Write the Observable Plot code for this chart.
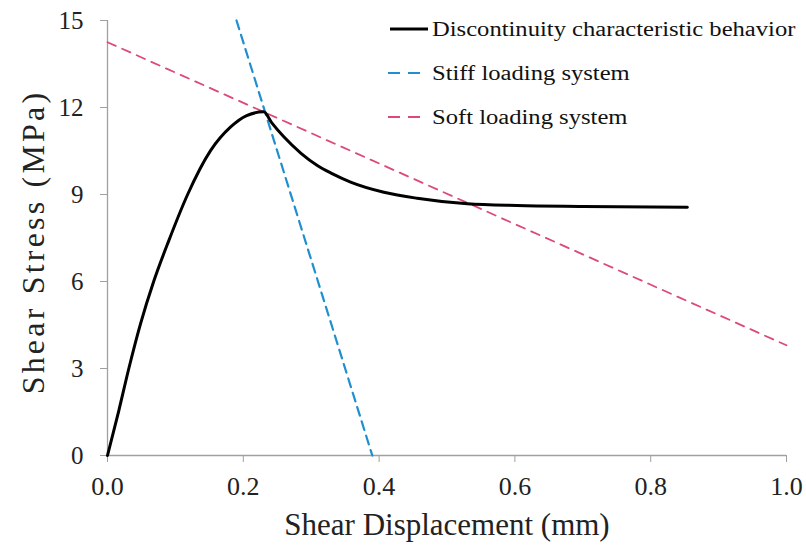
<!DOCTYPE html>
<html>
<head>
<meta charset="utf-8">
<script src="https://cdn.jsdelivr.net/npm/d3@7"></script>
<script src="https://cdn.jsdelivr.net/npm/@observablehq/plot@0.6"></script>
<style>
  html, body { margin: 0; padding: 0; background: #fff; }
  #wrap { position: relative; width: 806px; height: 548px; font-family: "Liberation Serif", "Times New Roman", serif; }
  #wrap svg text { font-family: "Liberation Serif", "Times New Roman", serif !important; }
  #legend { position: absolute; left: 386px; top: 7px; font-size: 20px; color: #111; }
  .row { display: flex; align-items: center; height: 44px; white-space: nowrap; }
  .row svg { margin-right: 2px; }
  .row span { display: inline-block; transform: scaleX(1.23); transform-origin: left center; }
  .ytitle text { letter-spacing: 3.2px; }
</style>
</head>
<body>
<div id="wrap"></div>
<script>
// Discontinuity characteristic curve (shear displacement mm, shear stress MPa)
const curveX = [0, 0.0167, 0.0314, 0.0486, 0.068, 0.0903, 0.118, 0.152, 0.181, 0.205, 0.23, 0.242, 0.26, 0.285, 0.309, 0.33, 0.358, 0.407, 0.456, 0.53, 0.603, 0.70, 0.854];
const curveY = [0, 1.55, 3.0, 4.54, 6.0, 7.41, 9.0, 10.52, 11.32, 11.72, 11.85, 11.47, 10.98, 10.42, 10.0, 9.73, 9.43, 9.08, 8.87, 8.68, 8.62, 8.59, 8.56];
// Stiff loading system line
const stiffX = [0.19, 0.39];
const stiffY = [15, 0];
// Soft loading system line
const softX = [0, 1.0];
const softY = [14.25, 3.8];
// Ticks
const xTicks = [0, 0.2, 0.4, 0.6, 0.8, 1.0];
const yTicks = [0, 3, 6, 9, 12, 15];
const seriesNames = ["Discontinuity characteristic behavior", "Stiff loading system", "Soft loading system"];
const seriesColors = ["#000000", "#1f8fcf", "#dc4a76"];

const curve = curveX.map((x, i) => ({x, y: curveY[i]}));
const stiff = stiffX.map((x, i) => ({x, y: stiffY[i]}));
const soft = softX.map((x, i) => ({x, y: softY[i]}));

const chart = Plot.plot({
  width: 806,
  height: 548,
  marginLeft: 107,
  marginRight: 20,
  marginTop: 20,
  marginBottom: 93,
  style: { fontFamily: "'Liberation Serif', 'Times New Roman', serif", background: "#fff", color: "#222" },
  x: { domain: [0, 1], ticks: xTicks, tickFormat: d => d.toFixed(1) },
  y: { domain: [0, 15], ticks: yTicks },
  marks: [
    Plot.ruleY([0], {stroke: "#a0a0a0", strokeWidth: 1.3}),
    Plot.ruleX([0], {stroke: "#a0a0a0", strokeWidth: 1.3}),
    Plot.axisX({ticks: xTicks, tickFormat: d => d.toFixed(1), tickSize: 7, tickPadding: 14, stroke: "#a0a0a0", fontSize: 26, fill: "#222", label: null}),
    Plot.axisY({ticks: yTicks, tickSize: 7, tickPadding: 17, stroke: "#a0a0a0", fontSize: 25, fill: "#222", label: null}),
    Plot.text(["Shear Displacement (mm)"], {frameAnchor: "bottom", dy: 79, fontSize: 31, fill: "#222"}),
    Plot.text(["Shear Stress (MPa)"], {frameAnchor: "left", textAnchor: "middle", dx: -74, dy: 4, rotate: -90, fontSize: 32, fill: "#222", className: "ytitle"}),
    Plot.line(soft, {x: "x", y: "y", stroke: seriesColors[2], strokeWidth: 1.8, strokeDasharray: "9,7"}),
    Plot.line(stiff, {x: "x", y: "y", stroke: seriesColors[1], strokeWidth: 2.2, strokeDasharray: "9,6"}),
    Plot.line(curve, {x: "x", y: "y", stroke: seriesColors[0], strokeWidth: 3, curve: "monotone-x"})
  ]
});

const wrap = document.getElementById("wrap");
wrap.appendChild(chart);

const legend = document.createElement("div");
legend.id = "legend";
seriesNames.forEach((name, i) => {
  const row = document.createElement("div");
  row.className = "row";
  const dash = i === 0 ? "" : `stroke-dasharray="12,8"`;
  row.innerHTML = `<svg width="44" height="10"><line x1="${i === 0 ? 4 : 2}" y1="5" x2="${i === 0 ? 42 : 34}" y2="5" stroke="${seriesColors[i]}" stroke-width="${i === 0 ? 3 : 2}" ${dash}/></svg><span>${name}</span>`;
  legend.appendChild(row);
});
wrap.appendChild(legend);
</script>
</body>
</html>
